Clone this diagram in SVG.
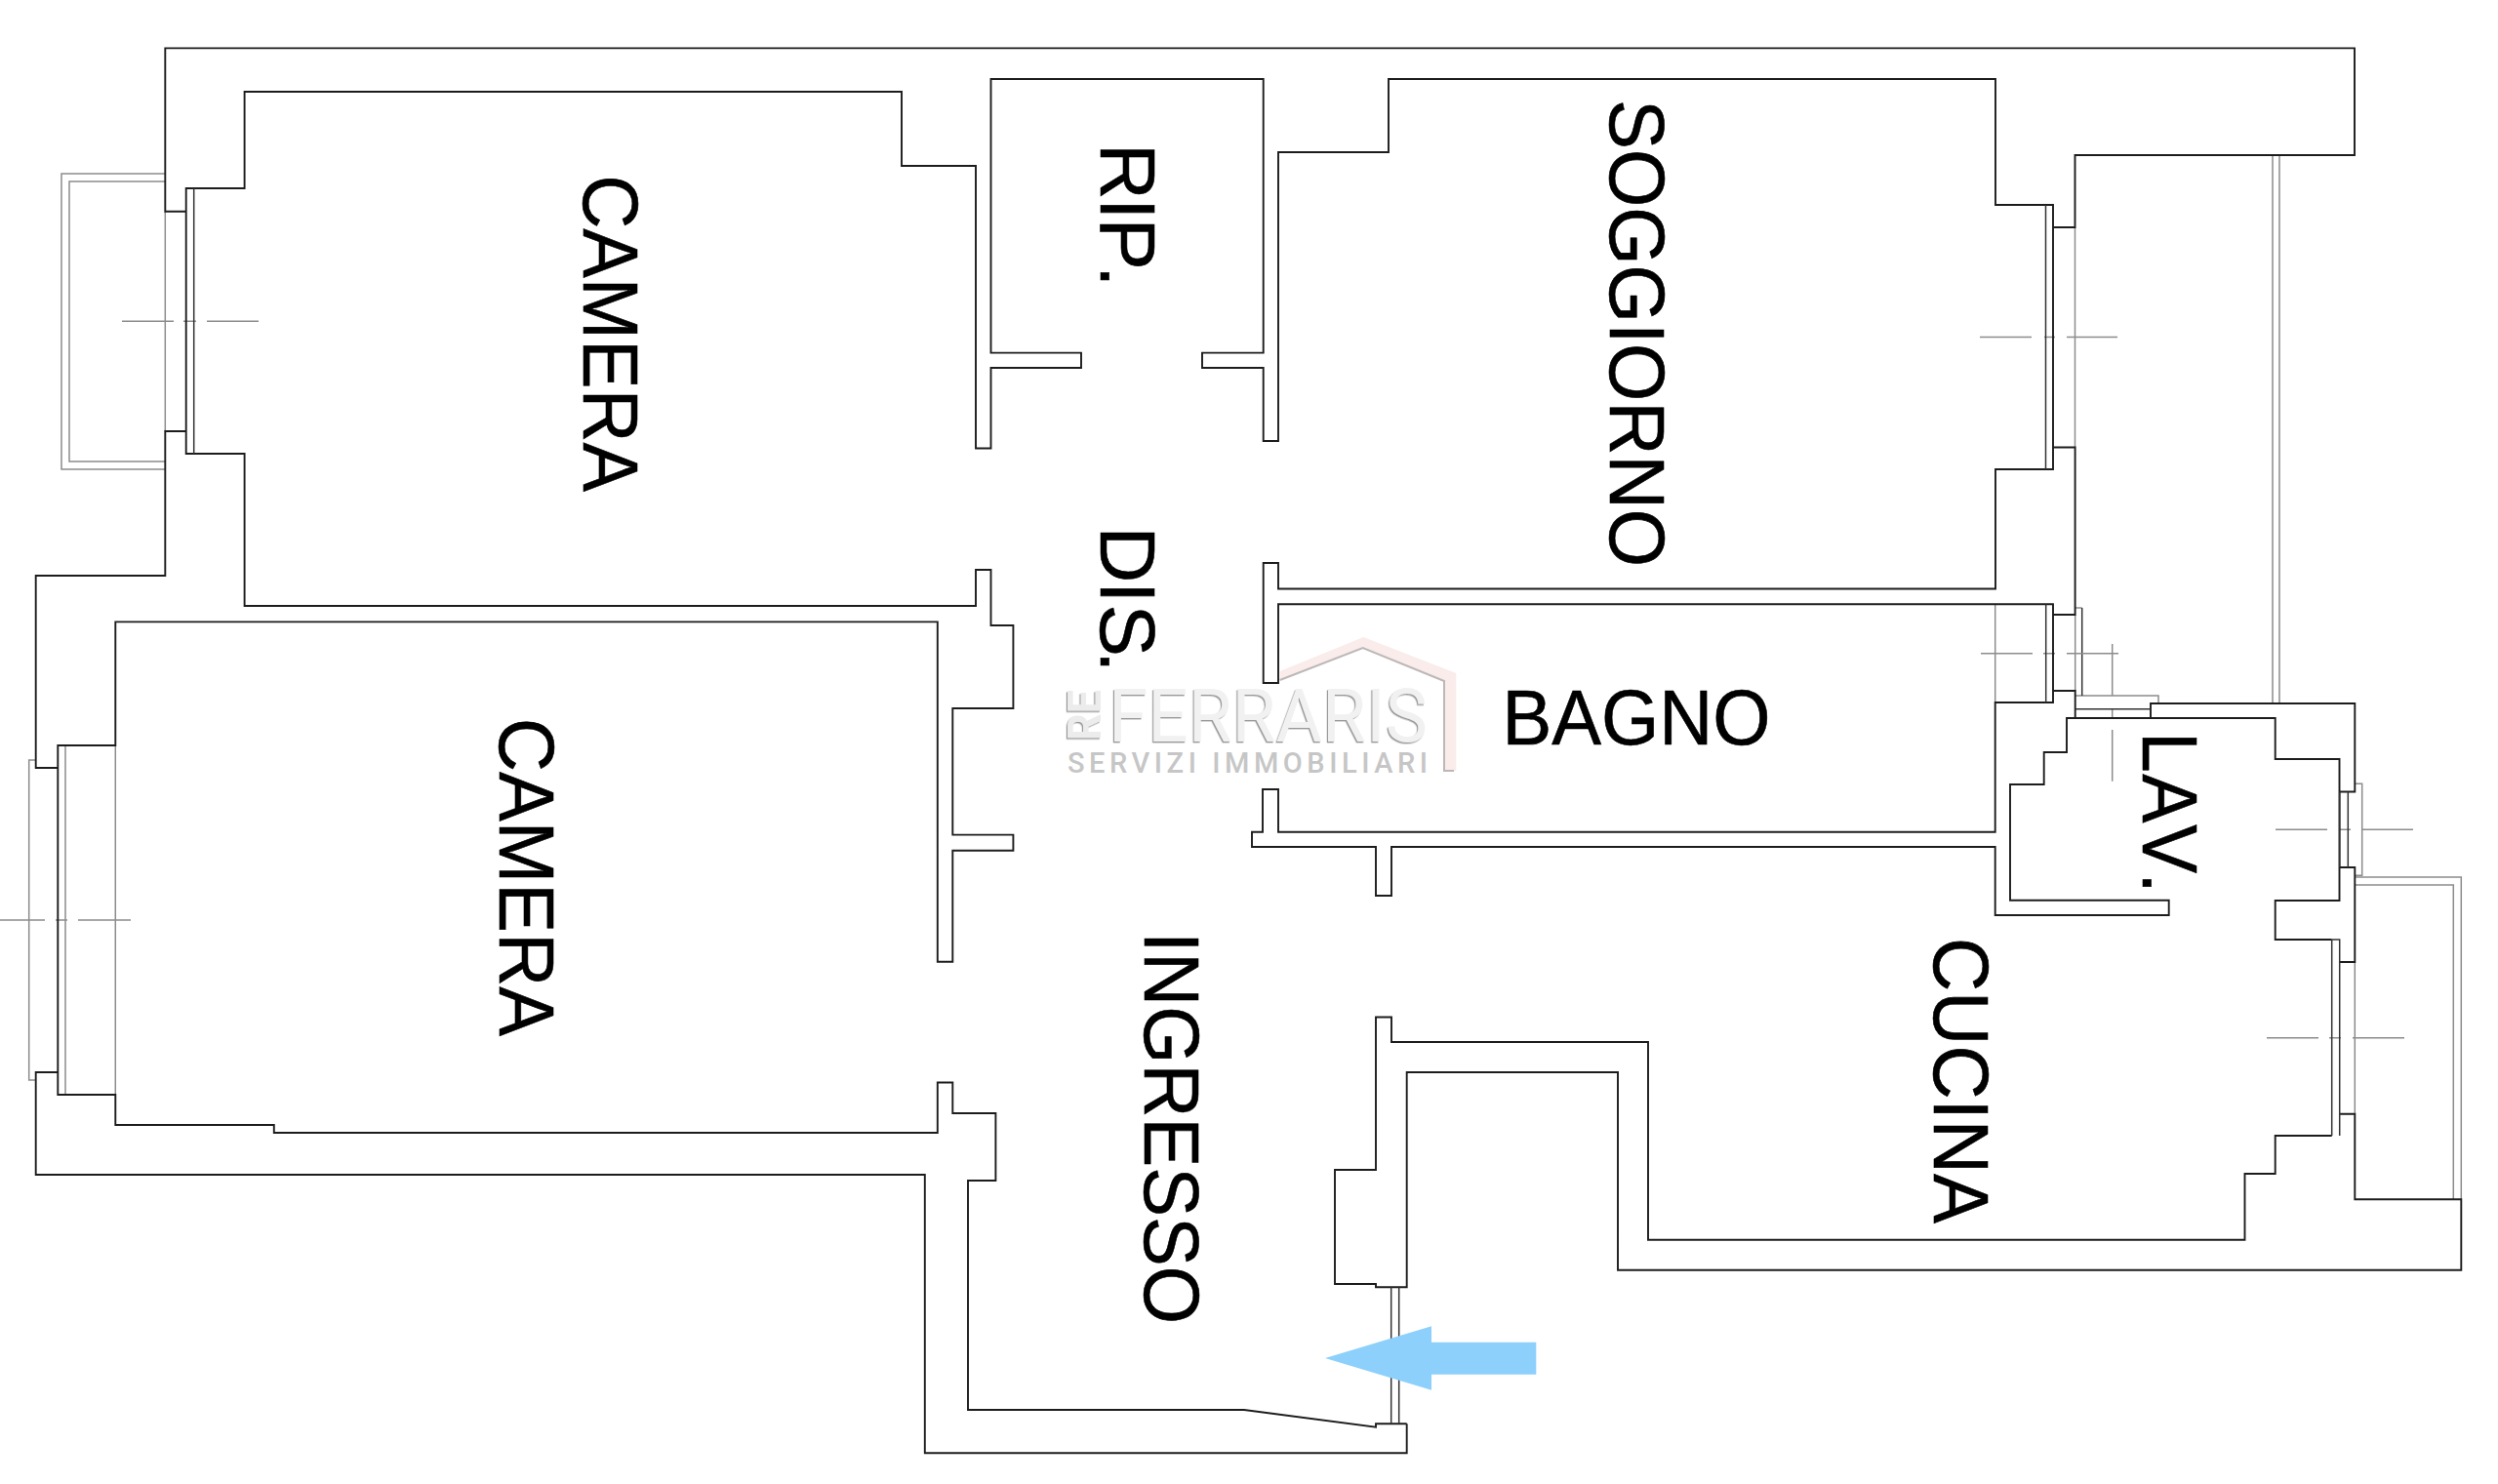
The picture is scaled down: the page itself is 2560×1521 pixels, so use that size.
<svg xmlns="http://www.w3.org/2000/svg" width="2560" height="1521" viewBox="0 0 2560 1521">
<style>
.w{fill:none;stroke:#1c1c1c;stroke-width:1.9}
.t{fill:none;stroke:#333;stroke-width:1.5}
.g{fill:none;stroke:#8c8c8c;stroke-width:1.5}
.l{font-family:"Liberation Sans",Arial,sans-serif;font-size:80px;fill:#000;stroke:#000;stroke-width:.6}
</style>
<defs><filter id="emb" x="-5%" y="-5%" width="110%" height="110%"><feDropShadow dx="-1.2" dy="1.4" stdDeviation="0.5" flood-color="#999"/></filter></defs>
<rect width="2560" height="1521" fill="#fff"/>
<g id="logo">
<polygon points="1311.7,688 1397.3,653 1492.3,690 1492.3,790 1480,790 1480,698 1396.7,664 1311.7,697" fill="#f9ecea"/>
<polyline points="1311.7,697 1396.7,664 1480,698 1480,790 1490,790" fill="none" stroke="#bdb8b8" stroke-width="2"/>
<g filter="url(#emb)">
<text transform="translate(1128,759) rotate(-90)" font-family="Roboto,sans-serif" font-size="48" font-weight="700" fill="#ececec" textLength="52" lengthAdjust="spacingAndGlyphs">RE</text>
<text x="1136" y="760" font-family="Roboto,sans-serif" font-size="76" font-weight="400" fill="#f1f1f1" textLength="327" lengthAdjust="spacingAndGlyphs">FERRARIS</text>
</g>
<text x="1094" y="792" font-family="Roboto,sans-serif" font-size="29" font-weight="500" fill="#c6c6c6" textLength="369">SERVIZI IMMOBILIARI</text>
</g>
<g id="balconies">
<path class="g" d="M169.3,178 H63 V481 H169.3 M169.3,186 H71 V473 H169.3"/>
<path class="g" d="M36.7,779 H29.7 V1107 H36.7"/>
<path class="g" d="M2413.3,899 H2522.3 V1229.3 M2413.3,907 H2514.3 V1229.3"/>
<path class="g" d="M2329,159 V721 M2336,159 V721"/>
</g>
<g id="windows-thin">
<path class="g" d="M169.3,216.7 V442"/>
<path class="g" d="M67,764 V1122 M118.3,764 V1122"/>
<path class="g" d="M2126.5,233 V458.5"/>
<path class="g" d="M2044.7,619.3 V720"/>
<path class="g" d="M2126.7,630 V708 M2126.7,623 H2133.7 M2126.7,713 H2212 V721"/>
<path class="t" d="M2133.7,623 V713"/>
<path class="g" d="M2413.3,803.3 H2420.7 V897.3 H2413.3"/>
<path class="g" d="M2413.3,986 V1141.7"/>
<path class="g" d="M2164.7,660 V713 M2164.7,726 V736 M2164.7,748 V800.7"/>
<path class="g" d="M0,943 H46 M57,943 H69 M80,943 H134"/>
<path class="g" d="M125,329.3 H178 M188,329.3 H201 M212,329.3 H265"/>
<path class="g" d="M2029,345.6 H2082 M2095,345.6 H2106 M2118,345.6 H2170"/>
<path class="g" d="M2030,669.7 H2083 M2094,669.7 H2106 M2118,669.7 H2171"/>
<path class="g" d="M2332,850.3 H2385 M2397,850.3 H2409 M2421,850.3 H2473"/>
<path class="g" d="M2323,1063.7 H2376 M2387,1063.7 H2399 M2411,1063.7 H2464"/>
</g>
<g id="walls">
<path class="w" d="M190.7,216.7 H169.3 V49.4 H2413 V159 H2126.5 V233 H2104"/>
<path class="w" d="M2104,458.5 H2126.6 V630 H2104"/>
<path class="w" d="M2104,708 H2126.7 V736"/>
<path class="w" d="M2204,736 V721 H2413.3 V811.5 H2397.7"/>
<path class="w" d="M2397.7,889 H2413.3 V986 H2397.7"/>
<path class="w" d="M2389.7,1164 H2331.7 V1203 H2300.5 V1270.7 H1689 V1068 H1426 V1042.5 H1410 V1199 H1368 V1316 H1410 V1319.3 H1441.7 V1099 H1658 V1301.7 H2522.3 V1229.3 H2413.3 V1141.7 H2397.7"/>
<path class="w" d="M1441.7,1459.3 H1410 V1462.7 L1275,1445 H992 V1210 H1020.4 V1141 H976.3 V1109.5 H960.8 V1161 H280.8 V1153 H118.3 V1122 H59.3 V764 H118.3 V637.4 H960.8 V985.7 H976.3 V871.7 H1038.4 V855.6 H976.3 V726 H1038.4 V641 H1015.5 V584 H1000 V621 H250.6 V465 H190.7 V193 H250.6 V94 H924 V170 H1000 V459.5 H1015.5 V377 H1108 V361.6 H1015.5 V81 H1294.7 V361.6 H1232 V377 H1294.7 V452 H1310 V156 H1423 V81 H2045 V210 H2104 V481 H2045 V603.5 H1310 V577 H1294.7 V700 H1310 V619.3 H2104 V720 H2044.7 V852.7 H1310 V809 H1294 V852.7 H1283 V868 H1410 V918 H1426 V868 H2044.7 V938 H2222.7 V922.7 H2060 V804 H2094.7 V771 H2118 V736 H2331.7 V778 H2397.5 V923 H2331.7 V963 H2389.7"/>
<path class="w" d="M1441.7,1459.3 V1489.3 H947.8 V1204 H36.7 V1099 H59.3"/>
<path class="w" d="M59.3,787 H36.7 V590 H169.3 V442 H190.7"/>
<path class="t" d="M198.7,193 V465"/>
<path class="t" d="M2096.5,210 V481"/>
<path class="t" d="M2096.7,619.3 V720"/>
<path class="t" d="M2126.7,726.7 H2204"/>
<path class="t" d="M2406.3,811.5 V889"/>
<path class="t" d="M2397.7,811.5 V889"/>
<path class="t" d="M2389.7,963 V1164 M2397.7,986 V1164 M2389.7,963 H2397.7 V986"/>
<path class="t" d="M1425.7,1319.3 V1459.3 M1433.7,1319.3 V1459.3"/>
</g>
<g id="arrow"><polygon points="1358,1392 1467,1359.3 1467,1375.7 1574.3,1375.7 1574.3,1408.7 1467,1408.7 1467,1424.7" fill="#8dd0fb"/></g>
<g id="labels">
<text class="l" transform="translate(598,179.5) rotate(90)" textLength="324.5" lengthAdjust="spacingAndGlyphs">CAMERA</text>
<text class="l" transform="translate(512,736) rotate(90)" textLength="326" lengthAdjust="spacingAndGlyphs">CAMERA</text>
<text class="l" transform="translate(1128,147) rotate(90)" x="0 56 76.5 125">RIP.</text>
<text class="l" transform="translate(1128,539.5) rotate(90)" x="0 56.5 80 127.5">DIS.</text>
<text class="l" transform="translate(1650,102) rotate(90)" textLength="479" lengthAdjust="spacingAndGlyphs">SOGGIORNO</text>
<text class="l" x="1539.5" y="763" textLength="275" lengthAdjust="spacingAndGlyphs">BAGNO</text>
<text class="l" transform="translate(2196,750) rotate(90) scale(.94,1)" x="0 46 101 154">LAV.</text>
<text class="l" transform="translate(1173,955) rotate(90)" textLength="402" lengthAdjust="spacingAndGlyphs">INGRESSO</text>
<text class="l" transform="translate(1982,961) rotate(90)" textLength="293" lengthAdjust="spacingAndGlyphs">CUCINA</text>
</g>
</svg>
